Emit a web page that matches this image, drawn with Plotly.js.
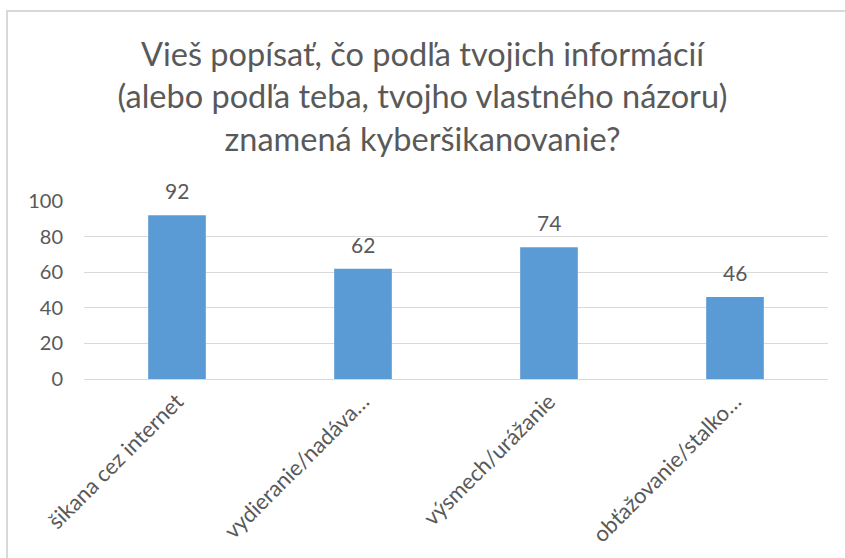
<!DOCTYPE html>
<html>
<head>
<meta charset="utf-8">
<script src="https://cdn.plot.ly/plotly-3.0.1.min.js"></script>
<style>
  html, body { margin: 0; padding: 0; background: #fff; }
  #wrap { position: relative; width: 845px; height: 558px; overflow: hidden; }
  #chart { width: 845px; height: 558px; }
  #frame { position: absolute; left: 6px; top: 10px; width: 860px; height: 560px;
           border-left: 2px solid #D9D9D9; border-top: 2px solid #D9D9D9; pointer-events: none; }
</style>
</head>
<body>
<div id="wrap"><div id="chart"></div><div id="frame"></div></div>
<script>
const categories = ["šikana cez internet", "vydieranie/nadáva…", "výsmech/urážanie", "obťažovanie/stalko…"];
const values = [92, 62, 74, 46];
const yTicks = [0, 20, 40, 60, 80, 100];
const titleText = "Vieš popísať, čo podľa tvojich informácií<br>(alebo podľa teba, tvojho vlastného názoru)<br>znamená kyberšikanovanie?";

const textColor = "#595959";
const fontFam = "Lato, 'Open Sans', sans-serif";

const trace = {
  type: "bar",
  x: categories,
  y: values,
  marker: { color: "#5B9BD5" },
  hoverinfo: "x+y"
};

const annotations = categories.map((c, i) => ({
  x: c, y: values[i], xref: "x", yref: "y",
  text: String(values[i]), showarrow: false,
  yanchor: "bottom", yshift: 10,
  font: { family: fontFam, size: 21, color: textColor }
}));

const layout = {
  width: 845, height: 558,
  paper_bgcolor: "#ffffff", plot_bgcolor: "#ffffff",
  margin: { l: 84, r: 17, t: 201, b: 179 },
  title: {
    text: titleText,
    x: 0.5, xanchor: "center", xref: "container",
    y: 1 - 66 / 558, yanchor: "top", yref: "container",
    font: { family: fontFam, size: 32.5, color: textColor }
  },
  bargap: 0.69,
  showlegend: false,
  xaxis: {
    type: "category",
    tickangle: -45,
    tickfont: { family: fontFam, size: 22, color: textColor },
    showline: true, linecolor: "#D9D9D9", linewidth: 1,
    ticks: "", showgrid: false, automargin: false
  },
  yaxis: {
    range: [0, 100],
    tickvals: yTicks,
    ticktext: yTicks.map(String),
    tickfont: { family: fontFam, size: 20, color: textColor },
    gridcolor: "#D9D9D9", gridwidth: 1,
    zeroline: false, showline: false,
    ticks: "", ticklen: 0, ticklabelstandoff: 20, automargin: false
  },
  annotations: annotations
};

Plotly.newPlot("chart", [trace], layout, { displayModeBar: false, staticPlot: true });
</script>
</body>
</html>
